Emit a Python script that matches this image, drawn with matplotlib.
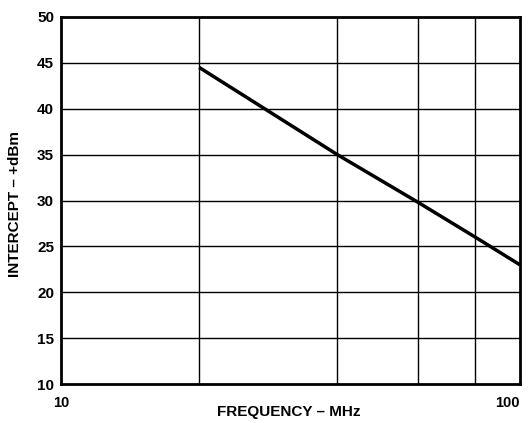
import numpy as np
import matplotlib.pyplot as plt

plt.rcParams['font.family'] = ['Liberation Sans', 'DejaVu Sans']
plt.rcParams['font.weight'] = 'bold'

freq = [20, 40, 60, 80, 100]
intercept = [44.5, 35.0, 29.8, 26.0, 23.0]
x_grid = [20, 40, 60, 80]
y_ticks = [10, 15, 20, 25, 30, 35, 40, 45, 50]

fig = plt.figure(figsize=(5.31, 4.23), dpi=100)
ax = fig.add_axes([0.115, 0.092, 0.864, 0.868])

ax.plot(freq, intercept, color='black', lw=2.5, solid_capstyle='butt')

ax.set_xscale('log')
ax.set_xlim(10, 100)
ax.set_ylim(10, 50)
ax.set_yticks(y_ticks)
ax.set_xticks([])
ax.set_xticks([], minor=True)
for x in x_grid:
    ax.axvline(x, color='black', lw=1)
for y in y_ticks[1:-1]:
    ax.axhline(y, color='black', lw=1)

ax.tick_params(axis='y', length=0, pad=5, labelsize=11)
for s in ax.spines.values():
    s.set_linewidth(2)

# x tick labels sit at the ends, same row
ax.text(10, -0.052, '10', transform=ax.get_xaxis_transform(), ha='center', va='center', fontsize=10.5)
ax.text(100, -0.052, '100', transform=ax.get_xaxis_transform(), ha='right', va='center', fontsize=10.5)
ax.text(0.497, -0.076, 'FREQUENCY – MHz', transform=ax.transAxes, ha='center', va='center', fontsize=11)
ax.text(-0.1, 0.49, 'INTERCEPT – +dBm', transform=ax.transAxes, rotation=90,
        ha='center', va='center', fontsize=11)

fig.savefig('out.png', dpi=100)
